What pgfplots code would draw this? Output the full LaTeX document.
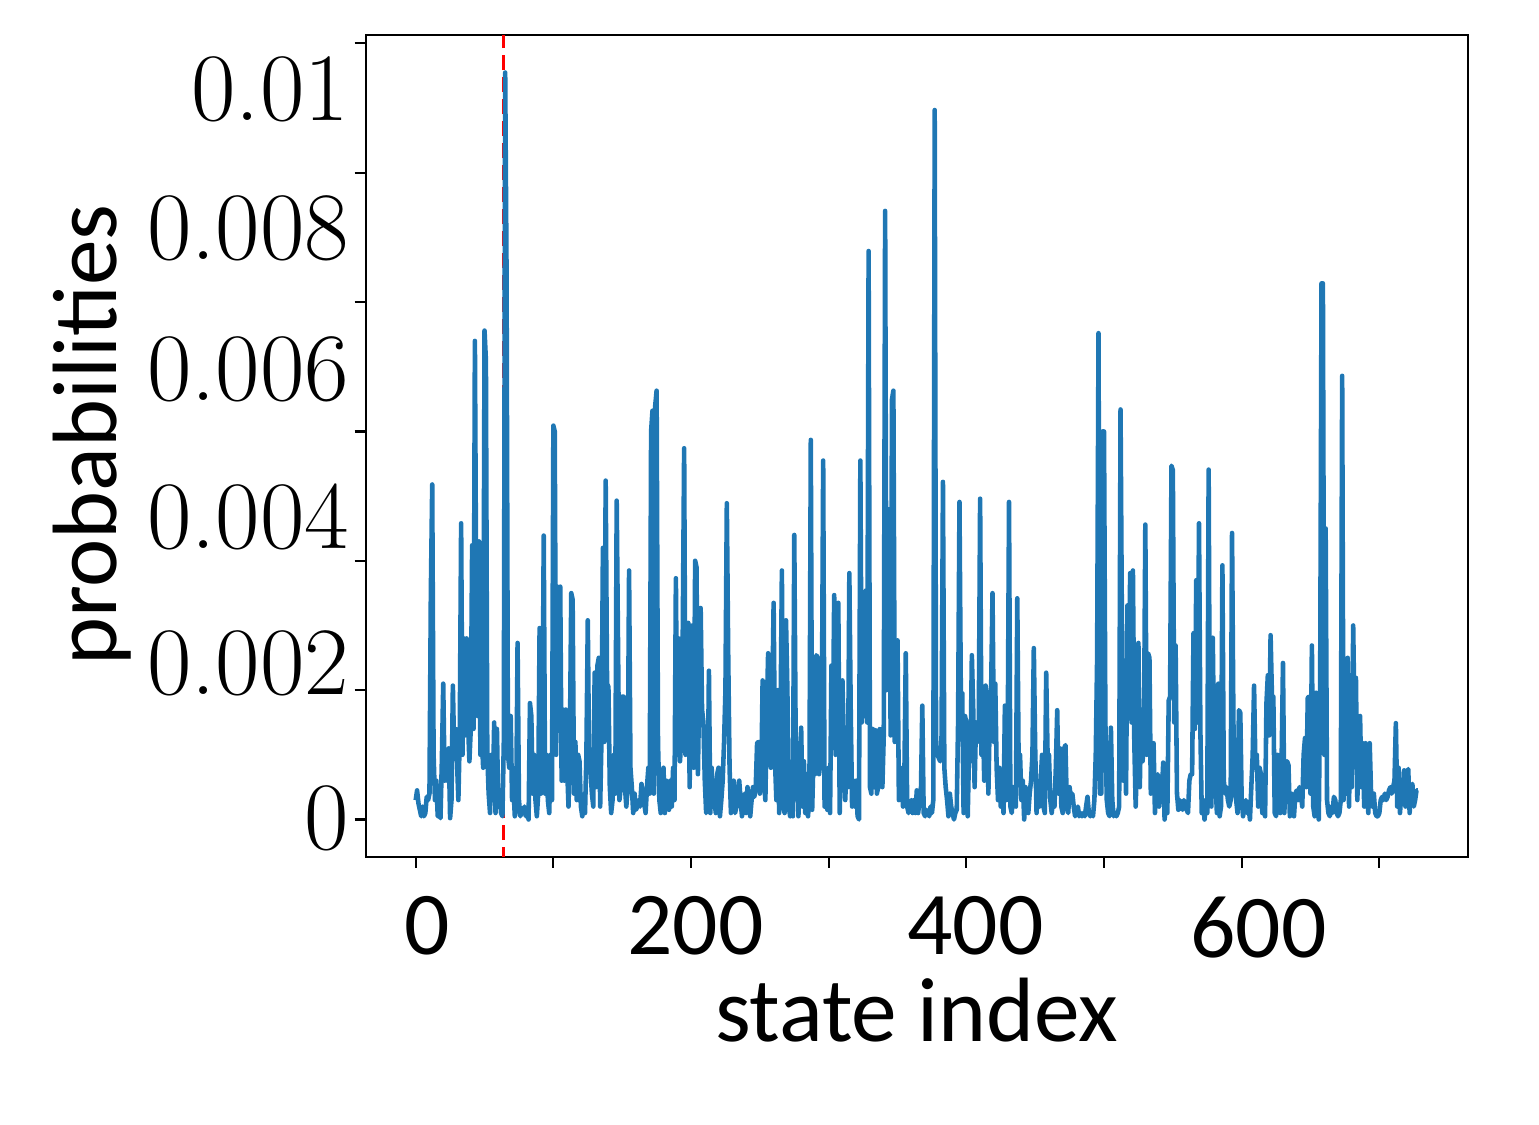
\documentclass[border=0pt]{standalone}
\usepackage{fontspec}
\newfontfamily\carlito{Carlito}
\usepackage{pgfplots}
\usepackage{pgfplotstable}
\pgfplotsset{compat=1.18}
\definecolor{mplblue}{HTML}{1F77B4}

% probability of each state (in units of 1e-3), state index = row number
\pgfplotstableread[row sep=\\]{
p\\
0.3\\ 0.45\\ 0.25\\ 0.15\\ 0.05\\ 0.2\\ 0.05\\ 0.1\\ 0.35\\ 0.3\\
0.4\\ 3.5\\ 5.18\\ 1.0\\ 0.3\\ 0.6\\ 0.05\\ 0.1\\ 0.02\\ 0.9\\
2.1\\ 0.6\\ 1.07\\ 0.6\\ 1.1\\ 0.02\\ 0.3\\ 2.07\\ 1.0\\ 1.4\\
0.9\\ 0.3\\ 1.3\\ 4.58\\ 1.0\\ 2.8\\ 1.3\\ 2.8\\ 1.5\\ 0.9\\
1.4\\ 4.24\\ 1.4\\ 7.4\\ 3.2\\ 1.6\\ 4.3\\ 1.0\\ 1.3\\ 0.8\\
7.56\\ 7.1\\ 1.0\\ 0.4\\ 0.1\\ 1.0\\ 0.3\\ 1.5\\ 0.1\\ 1.4\\
0.2\\ 0.4\\ 0.1\\ 0.05\\ 1.2\\ 11.55\\ 8.45\\ 1.0\\ 0.8\\ 1.6\\
0.3\\ 0.5\\ 0.05\\ 0.2\\ 2.73\\ 0.3\\ 0.05\\ 0.15\\ 0.1\\ 0.2\\
0.05\\ 0.1\\ 0.0\\ 1.8\\ 1.6\\ 0.4\\ 1.0\\ 0.3\\ 0.05\\ 0.4\\
2.96\\ 0.4\\ 1.0\\ 4.39\\ 0.4\\ 1.0\\ 0.3\\ 0.1\\ 1.0\\ 0.3\\
6.09\\ 6.0\\ 1.0\\ 3.6\\ 2.4\\ 3.6\\ 0.6\\ 1.7\\ 0.6\\ 1.7\\
0.8\\ 0.2\\ 1.2\\ 3.5\\ 3.4\\ 0.4\\ 1.2\\ 0.3\\ 1.0\\ 0.9\\
0.2\\ 0.05\\ 0.3\\ 0.1\\ 1.0\\ 3.08\\ 0.8\\ 0.76\\ 0.4\\ 0.2\\
2.27\\ 0.5\\ 2.38\\ 2.5\\ 0.2\\ 1.3\\ 4.2\\ 1.2\\ 5.24\\ 2.1\\
2.05\\ 0.5\\ 0.1\\ 0.3\\ 1.0\\ 0.4\\ 4.93\\ 2.65\\ 0.3\\ 0.5\\
1.9\\ 1.9\\ 0.5\\ 0.2\\ 0.5\\ 3.85\\ 0.8\\ 0.5\\ 0.1\\ 0.4\\
0.15\\ 0.2\\ 0.3\\ 0.2\\ 0.55\\ 0.4\\ 0.25\\ 0.1\\ 0.5\\ 0.8\\
0.4\\ 6.0\\ 6.32\\ 0.4\\ 6.4\\ 6.63\\ 1.2\\ 0.3\\ 0.1\\ 0.5\\
0.8\\ 0.1\\ 0.6\\ 0.3\\ 0.15\\ 0.6\\ 0.2\\ 0.8\\ 0.3\\ 3.73\\
1.0\\ 2.8\\ 0.9\\ 1.3\\ 2.9\\ 5.74\\ 1.0\\ 2.6\\ 3.04\\ 0.5\\
2.9\\ 3.0\\ 0.8\\ 4.0\\ 3.9\\ 0.7\\ 2.1\\ 3.27\\ 1.7\\ 1.5\\
0.6\\ 0.1\\ 0.2\\ 2.3\\ 0.1\\ 0.8\\ 0.2\\ 0.3\\ 0.1\\ 0.7\\
0.8\\ 0.05\\ 0.3\\ 0.6\\ 1.2\\ 2.0\\ 4.89\\ 2.57\\ 0.8\\ 0.1\\
0.3\\ 0.6\\ 0.1\\ 0.2\\ 0.4\\ 0.6\\ 0.3\\ 0.05\\ 0.3\\ 0.4\\
0.1\\ 0.5\\ 0.3\\ 0.05\\ 0.3\\ 0.5\\ 0.35\\ 0.5\\ 1.18\\ 1.2\\
0.4\\ 0.6\\ 2.15\\ 0.6\\ 0.3\\ 1.6\\ 2.57\\ 1.0\\ 0.8\\ 1.8\\
3.35\\ 0.9\\ 0.3\\ 2.0\\ 0.1\\ 1.5\\ 3.85\\ 0.2\\ 0.1\\ 3.08\\
2.0\\ 0.2\\ 0.05\\ 0.4\\ 0.05\\ 4.4\\ 1.3\\ 0.9\\ 0.05\\ 0.6\\
1.42\\ 0.2\\ 0.9\\ 0.1\\ 0.7\\ 0.05\\ 0.4\\ 5.87\\ 0.15\\ 1.0\\
0.7\\ 2.54\\ 2.5\\ 0.7\\ 0.9\\ 1.5\\ 5.55\\ 0.2\\ 0.3\\ 0.15\\
0.8\\ 0.1\\ 2.38\\ 1.2\\ 3.47\\ 1.0\\ 2.1\\ 3.35\\ 0.1\\ 1.3\\
2.15\\ 1.2\\ 0.3\\ 0.8\\ 0.5\\ 3.81\\ 1.7\\ 0.2\\ 0.6\\ 0.2\\
0.6\\ 0.05\\ 0.0\\ 5.55\\ 1.5\\ 3.5\\ 1.6\\ 3.54\\ 1.5\\ 8.79\\
0.5\\ 0.4\\ 1.4\\ 0.5\\ 1.38\\ 0.4\\ 0.5\\ 1.4\\ 1.38\\ 0.5\\
1.3\\ 9.41\\ 2.0\\ 4.8\\ 4.7\\ 1.3\\ 6.5\\ 6.63\\ 1.2\\ 1.3\\
2.77\\ 0.3\\ 0.8\\ 0.6\\ 0.2\\ 0.7\\ 2.57\\ 0.2\\ 0.1\\ 0.2\\
0.3\\ 0.1\\ 0.3\\ 0.1\\ 0.45\\ 0.1\\ 0.3\\ 0.4\\ 1.76\\ 0.1\\
0.05\\ 0.15\\ 0.1\\ 0.05\\ 0.2\\ 0.1\\ 0.3\\ 10.97\\ 1.1\\ 1.0\\
0.95\\ 0.9\\ 1.3\\ 5.22\\ 0.8\\ 0.5\\ 0.3\\ 0.05\\ 0.4\\ 0.2\\
0.1\\ 0.0\\ 0.1\\ 0.15\\ 1.5\\ 4.91\\ 1.9\\ 1.96\\ 0.1\\ 1.6\\
1.5\\ 0.05\\ 1.1\\ 0.9\\ 2.54\\ 1.7\\ 0.5\\ 1.5\\ 1.2\\ 1.4\\
4.96\\ 1.0\\ 1.6\\ 0.6\\ 2.07\\ 1.9\\ 0.4\\ 1.6\\ 2.0\\ 3.5\\
1.2\\ 2.1\\ 0.8\\ 0.3\\ 0.8\\ 0.2\\ 0.6\\ 0.1\\ 1.76\\ 0.3\\
1.0\\ 4.91\\ 0.2\\ 0.1\\ 0.5\\ 0.3\\ 0.2\\ 3.42\\ 0.8\\ 1.0\\
0.3\\ 0.6\\ 0.0\\ 0.5\\ 0.3\\ 0.1\\ 0.4\\ 0.6\\ 1.0\\ 2.65\\
1.1\\ 0.1\\ 0.5\\ 0.2\\ 0.6\\ 1.0\\ 0.2\\ 0.1\\ 2.27\\ 1.0\\
1.0\\ 0.3\\ 0.1\\ 0.3\\ 0.2\\ 0.8\\ 1.69\\ 0.4\\ 1.1\\ 0.2\\
0.1\\ 1.1\\ 1.15\\ 0.2\\ 0.1\\ 0.5\\ 0.3\\ 0.4\\ 0.2\\ 0.05\\
0.1\\ 0.2\\ 0.05\\ 0.1\\ 0.05\\ 0.1\\ 0.05\\ 0.2\\ 0.35\\ 0.1\\
0.05\\ 0.1\\ 0.05\\ 0.3\\ 1.0\\ 2.5\\ 7.52\\ 0.4\\ 0.4\\ 6.0\\
6.0\\ 1.5\\ 0.3\\ 0.1\\ 0.05\\ 1.42\\ 0.3\\ 0.05\\ 0.1\\ 0.05\\
0.1\\ 0.2\\ 6.34\\ 3.0\\ 0.6\\ 2.15\\ 0.4\\ 3.31\\ 2.0\\ 3.81\\
1.5\\ 3.85\\ 1.2\\ 0.2\\ 1.0\\ 2.73\\ 0.5\\ 1.7\\ 0.9\\ 1.2\\
4.56\\ 1.0\\ 2.57\\ 2.5\\ 0.4\\ 0.7\\ 1.18\\ 0.1\\ 0.6\\ 0.7\\
0.2\\ 0.6\\ 0.4\\ 0.88\\ 0.0\\ 0.3\\ 0.1\\ 1.84\\ 1.9\\ 5.47\\
5.4\\ 1.5\\ 2.69\\ 0.4\\ 0.15\\ 0.3\\ 0.2\\ 0.15\\ 0.3\\ 0.2\\
0.15\\ 0.1\\ 0.6\\ 0.7\\ 0.7\\ 2.88\\ 1.4\\ 3.7\\ 1.5\\ 4.58\\
1.38\\ 0.1\\ 0.3\\ 0.0\\ 0.2\\ 0.1\\ 5.41\\ 0.4\\ 0.2\\ 2.81\\
1.0\\ 0.6\\ 0.1\\ 2.1\\ 0.05\\ 0.2\\ 3.93\\ 0.6\\ 0.4\\ 0.5\\
0.3\\ 0.2\\ 0.3\\ 4.43\\ 1.5\\ 0.4\\ 0.3\\ 0.1\\ 1.69\\ 1.65\\
0.3\\ 0.05\\ 0.2\\ 0.3\\ 0.1\\ 0.2\\ 0.0\\ 0.5\\ 1.0\\ 2.07\\
0.8\\ 1.0\\ 0.2\\ 0.8\\ 0.7\\ 0.1\\ 0.2\\ 0.05\\ 1.8\\ 2.23\\
1.3\\ 2.85\\ 1.9\\ 1.9\\ 0.1\\ 0.05\\ 1.0\\ 0.8\\ 0.1\\ 0.9\\
2.42\\ 0.1\\ 0.84\\ 0.9\\ 0.84\\ 0.05\\ 0.4\\ 0.2\\ 0.05\\ 0.4\\
0.45\\ 0.3\\ 0.5\\ 0.4\\ 0.2\\ 1.0\\ 1.26\\ 0.5\\ 1.88\\ 1.9\\
0.4\\ 2.69\\ 0.2\\ 0.05\\ 1.96\\ 0.5\\ 0.0\\ 2.0\\ 8.29\\ 8.29\\
1.0\\ 4.5\\ 0.3\\ 0.1\\ 0.05\\ 0.2\\ 0.1\\ 0.35\\ 0.3\\ 0.1\\
0.05\\ 0.1\\ 0.3\\ 6.86\\ 0.3\\ 2.0\\ 0.4\\ 2.5\\ 0.2\\ 2.0\\
0.5\\ 3.0\\ 1.5\\ 2.19\\ 0.3\\ 1.0\\ 1.6\\ 0.5\\ 1.18\\ 0.2\\
1.18\\ 0.4\\ 0.1\\ 1.18\\ 0.4\\ 0.2\\ 0.4\\ 0.1\\ 0.05\\ 0.05\\
0.1\\ 0.3\\ 0.35\\ 0.3\\ 0.4\\ 0.3\\ 0.35\\ 0.45\\ 0.5\\ 0.4\\
0.5\\ 0.6\\ 1.49\\ 0.2\\ 0.8\\ 0.1\\ 0.4\\ 0.3\\ 0.76\\ 0.2\\
0.7\\ 0.78\\ 0.1\\ 0.5\\ 0.55\\ 0.2\\ 0.3\\ 0.45\\ 0.45\\
}\probs

\begin{document}
\begin{tikzpicture}
\begin{axis}[
  name=ax,
  scale only axis, width=110.24mm, height=82.2mm,
  xmin=-36.4, xmax=764.4, ymin=-0.58, ymax=12.13,
  axis line style={line width=0.6pt},
  tick align=outside, xtick pos=bottom, ytick pos=left,
  major tick length=1.1mm,
  tick style={line width=0.6pt, black},
  xtick={0,100,...,700}, ytick={0,2,...,12},
  xticklabels={}, yticklabels={},
  % the tick labels sit where the reference put them, off the tick marks
  extra x ticks={8,203.3,406.7,612.2},
  extra x tick labels={0,200,400,600},
  extra x tick style={major tick length=0pt,
    tick label style={font=\carlito\fontsize{25.5pt}{30pt}\selectfont,
      anchor=north, inner sep=0pt, yshift=-3.9mm}},
  extra y ticks={0.02,2.414,4.684,6.955,9.147,11.286},
  extra y tick labels={0,0.002,0.004,0.006,0.008,0.01},
  extra y tick style={major tick length=0pt,
    tick label style={font=\fontsize{27.5pt}{32pt}\selectfont,
      anchor=east, inner sep=0pt, xshift=-1.6mm}},
  xlabel={state index}, ylabel={probabilities},
  label style={font=\carlito\fontsize{26pt}{31pt}\selectfont},
  xlabel style={at={(axis description cs:0.5,-0.2250)}, anchor=base},
  ylabel style={at={(axis description cs:-0.2262,0.5134)}, anchor=base},
]
\addplot[red, line width=0.85pt, dash pattern=on 1.5mm off 0.7mm, forget plot]
  coordinates {(64,-1) (64,13)};
\addplot[mplblue, line width=1.3pt, line join=round, no markers]
  table[x expr=\coordindex, y=p] {\probs};
\end{axis}
\path ([xshift=-36.56mm,yshift=-26.8mm]ax.south west)
  rectangle ([xshift=7.1mm,yshift=3.5mm]ax.north east);
\end{tikzpicture}
\end{document}
